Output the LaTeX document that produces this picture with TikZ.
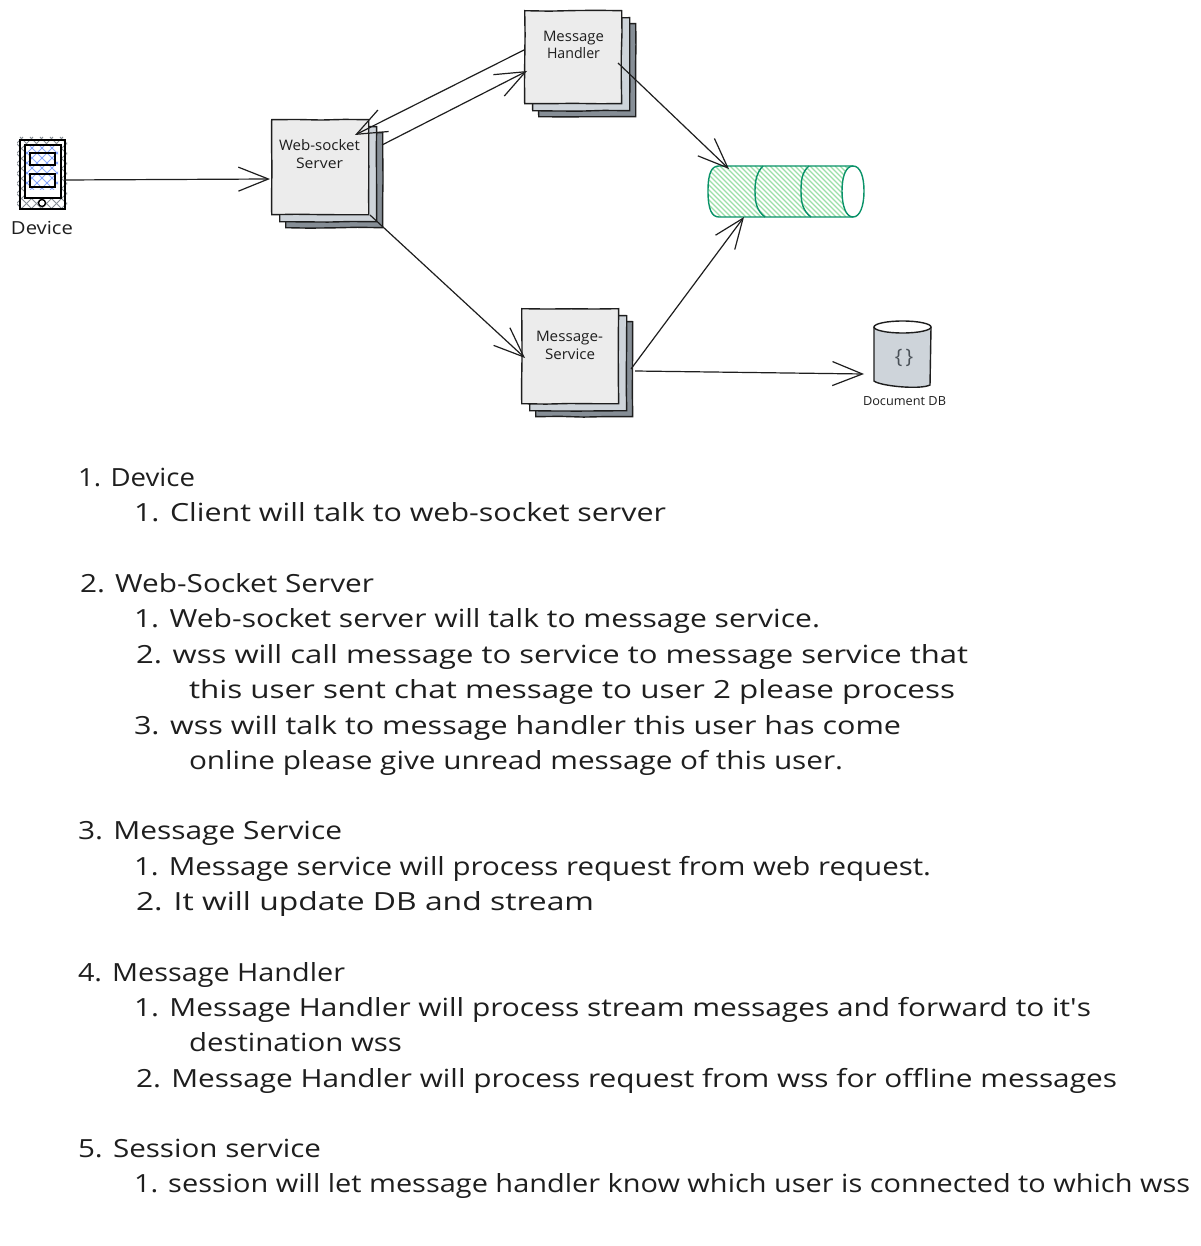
\documentclass[tikz,border=0pt]{standalone}
\usepackage{fontspec}
\usepackage{graphicx}
\setmainfont{Open Sans}
\usetikzlibrary{arrows.meta,decorations.pathmorphing}
\definecolor{frontc}{HTML}{ECECEC}
\definecolor{midc}{HTML}{CED4DA}
\definecolor{backc}{HTML}{868E96}
\definecolor{inkc}{HTML}{1E1E1E}
\definecolor{queuec}{HTML}{099268}
\definecolor{hatchg}{HTML}{9BDFA8}
\definecolor{hatchb}{HTML}{4D7CFE}
\definecolor{braces}{HTML}{495057}
\tikzset{
  rough/.style={decorate,decoration={random steps,segment length=24pt,amplitude=.45pt}},
  sheet/.style={draw=inkc,line width=1.4pt,rough,inner sep=0pt,anchor=north west},
  frontsheet/.style={sheet,fill=frontc},
  midsheet/.style={sheet,fill=midc},
  backsheet/.style={sheet,fill=backc},
  conn/.style={draw=inkc,line width=1.2pt,-{Straight Barb[length=30pt,width=24pt,line width=1.2pt]}},
  lbl/.style={inner sep=0pt,outer sep=0pt,anchor=base west,text=inkc},
  boxlbl/.style={lbl,font=\fontsize{14.5}{16}\selectfont},
  listline/.style={lbl,font=\fontsize{25}{28}\selectfont},
  device/.style={draw=black,line width=1.6pt,inner sep=0pt,anchor=north west},
  queueline/.style={draw=queuec,line width=1.4pt},
}
\newcommand{\fitlabel}[6]{% style, name, x1, x2, baseline, text
  \pgfmathsetmacro{\fitw}{#4-#3}%
  \node[#1] (#2) at (#3,#5) {\resizebox{\fitw pt}{\height}{#6}};}
\newcommand{\stack}[5]{% name, front x1,x2,y1,y2
  \node[backsheet,minimum width=#3-#2,minimum height=#5-#4] (#1back) at (#2+14,#4+13) {};
  \node[midsheet,minimum width=#3-#2,minimum height=#5-#4] (#1mid) at (#2+8,#4+7) {};
  \node[frontsheet,minimum width=#3-#2,minimum height=#5-#4] (#1) at (#2,#4) {};}
\begin{document}
\begin{tikzpicture}[x=1pt,y=-1pt]
\useasboundingbox (0,0) rectangle (1200,1246);
\fill[white] (0,0) rectangle (1200,1246);

% device
\begin{scope}
\clip (17,137) rectangle (67,210);
\foreach \s in {-60,-50,...,280} {
  \draw[backc,line width=.8pt] (\s,137) -- (\s+73,210);
  \draw[backc,line width=.8pt] (\s+73,137) -- (\s,210);
}
\end{scope}
\node[device,fill=none,minimum width=45pt,minimum height=69pt] (devouter) at (19,139) {};
\fill[white] (24,144) rectangle (60,197);
\begin{scope}
\clip (26,146) rectangle (58,190);
\foreach \s in {-40,-30,...,80} {
  \draw[hatchb,opacity=.65,line width=.8pt] (\s,146) -- (\s+44,190);
  \draw[hatchb,opacity=.65,line width=.8pt] (\s+44,146) -- (\s,190);
}
\end{scope}
\node[device,minimum width=36pt,minimum height=53pt] (devinner) at (24,144) {};
\node[device,minimum width=25pt,minimum height=12pt] (devbtna) at (29,152) {};
\node[device,minimum width=25pt,minimum height=13pt] (devbtnb) at (29,173) {};
\node[draw=black,line width=1.4pt,fill=white,circle,inner sep=0pt,minimum size=7pt] (devhome) at (42,203) {};
\fitlabel{lbl,font=\fontsize{18}{20}\selectfont}{devlabel}{11}{73}{235}{Device}

% stacks
\stack{ws}{271}{368}{119}{214}
\stack{mh}{524}{621}{10}{103}
\stack{ms}{521}{618}{308}{403}
\fitlabel{boxlbl}{wsa}{279}{360}{151}{Web-socket}
\fitlabel{boxlbl}{wsb}{296}{343}{169}{Server}
\fitlabel{boxlbl}{mha}{543}{604}{42}{Message}
\fitlabel{boxlbl}{mhb}{547}{600}{59}{Handler}
\fitlabel{boxlbl}{msa}{536}{603}{341}{Message-}
\fitlabel{boxlbl}{msb}{545}{595}{359}{Service}

% queue
\begin{scope}
\clip (719,166) .. controls (712,166) and (708,172) .. (708,191) .. controls (708,210) and (712,217) .. (719,217) -- (853,217) .. controls (846,217) and (842,206) .. (842,191) .. controls (842,176) and (846,166) .. (853,166) -- cycle;
\foreach \s in {640,645,...,880} {
  \draw[hatchg,line width=1.2pt] (\s,166) -- (\s+51,217);
}
\end{scope}
\draw[queueline] (853,166) -- (719,166) .. controls (712,166) and (708,172) .. (708,191) .. controls (708,210) and (712,217) .. (719,217) -- (853,217);
\draw[queueline] (853,166) .. controls (860,166) and (864,176) .. (864,191) .. controls (864,206) and (860,217) .. (853,217) .. controls (846,217) and (842,206) .. (842,191) .. controls (842,176) and (846,166) .. (853,166);
\draw[queueline] (763,166) .. controls (757,172) and (755,180) .. (755,191) .. controls (755,203) and (757,211) .. (765,217);
\draw[queueline] (809,166) .. controls (802,172) and (801,180) .. (801,191) .. controls (801,203) and (803,211) .. (811,217);
\coordinate (queuetop) at (729,169);
\coordinate (queuebot) at (744,217);

% document db
\path[fill=midc] (874,327) -- (874,381) .. controls (880,386) and (920,390) .. (930,385) -- (931,327) -- cycle;
\draw[inkc,line width=1.4pt] (874,327) -- (874,381) .. controls (880,386) and (920,390) .. (930,385) -- (931,327);
\draw[inkc,line width=1.4pt,fill=white] (902.5,327) ellipse[x radius=28.5,y radius=6];
\node[text=braces,inner sep=0pt,font=\fontsize{20}{22}\selectfont] (dbicon) at (904,358) {\{\,\}};
\fitlabel{lbl,font=\fontsize{12.5}{14}\selectfont}{dblabel}{863}{946}{405}{Document DB}
\coordinate (dbin) at (864,374);

% connector anchors
\coordinate (devout) at (64,180);
\coordinate (wsin) at (270,179);
\coordinate (wsoutup) at (382,145);
\coordinate (mhin) at (527,71);
\coordinate (mhoutl) at (524,50);
\coordinate (wsinup) at (355,135);
\coordinate (wsoutdn) at (370,215);
\coordinate (msin) at (525,358);
\coordinate (mhoutr) at (618,63);
\coordinate (msoutup) at (631,369);
\coordinate (msoutr) at (635,371);
\draw[conn] (devout) -- (wsin);
\draw[conn] (wsoutup) -- (mhin);
\draw[conn] (mhoutl) -- (wsinup);
\draw[conn] (wsoutdn) -- (msin);
\draw[conn] (mhoutr) -- (queuetop);
\draw[conn] (msoutup) -- (queuebot);
\draw[conn] (msoutr) -- (dbin);

% list
\fitlabel{listline}{la}{78}{195}{486}{1. Device}
\fitlabel{listline}{lb}{134}{666}{521}{1. Client will talk to web-socket server}
\fitlabel{listline}{lc}{80}{374}{592}{2. Web-Socket Server}
\fitlabel{listline}{ld}{134}{820}{627}{1. Web-socket server will talk to message service.}
\fitlabel{listline}{le}{136}{968}{663}{2. wss will call message to service to message service that}
\fitlabel{listline}{lf}{189}{955}{698}{this user sent chat message to user 2 please process}
\fitlabel{listline}{lg}{134}{901}{734}{3. wss will talk to message handler this user has come}
\fitlabel{listline}{lh}{189}{843}{769}{online please give unread message of this user.}
\fitlabel{listline}{li}{78}{342}{839}{3. Message Service}
\fitlabel{listline}{lj}{134}{931}{875}{1. Message service will process request from web request.}
\fitlabel{listline}{lk}{136}{594}{910}{2. It will update DB and stream}
\fitlabel{listline}{ll}{78}{345}{981}{4. Message Handler}
\fitlabel{listline}{lm}{134}{1091}{1016}{1. Message Handler will process stream messages and forward to it\textquotesingle s}
\fitlabel{listline}{ln}{189}{402}{1051}{destination wss}
\fitlabel{listline}{lo}{136}{1117}{1087}{2. Message Handler will process request from wss for offline messages}
\fitlabel{listline}{lp}{78}{321}{1157}{5. Session service}
\fitlabel{listline}{lq}{134}{1190}{1192}{1. session will let message handler know which user is connected to which wss}
\end{tikzpicture}
\end{document}
